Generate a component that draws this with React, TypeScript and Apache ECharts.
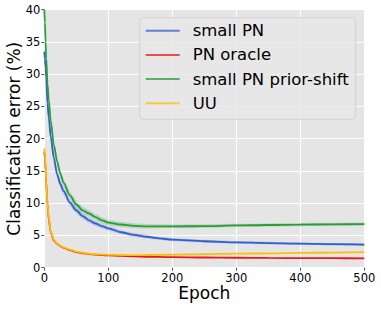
import React, { useEffect, useRef } from "react";
import * as echarts from "echarts";

const epochs = [0, 1, 2, 3, 5, 7, 10, 15, 20, 25, 30, 40, 50, 60, 70, 80, 90, 100, 120, 140, 160, 180, 200, 250, 300, 350, 400, 450, 500];

const smallPN = [33.5, 32.3, 31, 29.5, 25.5, 23.3, 20.3, 17, 14.5, 13, 11.9, 10.1, 8.9, 8.0, 7.35, 6.85, 6.45, 6.1, 5.5, 5.1, 4.8, 4.55, 4.35, 4.1, 3.93, 3.82, 3.72, 3.64, 3.57];
const smallPNSpread = [1.0, 1.0, 0.95, 0.9, 0.85, 0.8, 0.75, 0.7, 0.65, 0.6, 0.55, 0.5, 0.48, 0.45, 0.42, 0.4, 0.38, 0.35, 0.32, 0.3, 0.28, 0.26, 0.25, 0.22, 0.2, 0.2, 0.2, 0.2, 0.2];

const pnOracle = [18, 17, 15.2, 13.3, 9.8, 7.5, 5.5, 4.2, 3.7, 3.35, 3.1, 2.72, 2.42, 2.24, 2.1, 2.02, 1.96, 1.9, 1.82, 1.75, 1.7, 1.67, 1.64, 1.58, 1.54, 1.51, 1.49, 1.47, 1.45];

const priorShift = [40, 38, 35, 32.5, 28.5, 26, 22.8, 19, 16.5, 14.6, 13.2, 11.2, 9.8, 8.9, 8.4, 7.85, 7.35, 7.0, 6.7, 6.5, 6.42, 6.4, 6.4, 6.45, 6.55, 6.62, 6.68, 6.72, 6.77];
const priorShiftSpread = [1.0, 1.0, 0.95, 0.9, 0.85, 0.8, 0.75, 0.7, 0.68, 0.65, 0.62, 0.6, 0.58, 0.55, 0.52, 0.5, 0.48, 0.45, 0.42, 0.38, 0.35, 0.32, 0.3, 0.28, 0.26, 0.25, 0.24, 0.23, 0.22];

const uu = [18.5, 17.5, 15.5, 13.5, 10, 7.6, 5.6, 4.3, 3.75, 3.4, 3.15, 2.8, 2.5, 2.3, 2.17, 2.08, 2.03, 2.0, 1.97, 1.96, 1.97, 1.99, 2.02, 2.1, 2.17, 2.23, 2.29, 2.35, 2.4];

const xTicks = { min: 0, max: 500, interval: 100 };
const yTicks = { min: 0, max: 40, interval: 5 };

const seriesNames = ["small PN", "PN oracle", "small PN prior-shift", "UU"];
const colors = ["#2f5fd0", "#e8191c", "#2a9d3a", "#ffbf00"];

const FONT = "DejaVu Sans";

function pairs(vals: number[]) {
  return epochs.map((e, i) => [e, vals[i]]);
}

function band(name: string, vals: number[], spread: number[], fill: string) {
  const data = epochs.map((e, i) => [e, vals[i] - spread[i], vals[i] + spread[i]]);
  return {
    type: "custom",
    name: name + " band",
    silent: true,
    z: 1,
    data,
    encode: { x: 0, y: [1, 2] },
    renderItem: (params: any, api: any) => {
      if (params.dataIndexInside !== 0) return null;
      const upper = data.map((d) => api.coord([d[0], d[2]]));
      const lower = data.map((d) => api.coord([d[0], d[1]])).reverse();
      return {
        type: "polygon",
        shape: { points: upper.concat(lower), smooth: 0.2 },
        style: { fill, stroke: "none" },
      };
    },
  };
}

function line(idx: number, vals: number[]) {
  return {
    type: "line",
    name: seriesNames[idx],
    data: pairs(vals),
    showSymbol: false,
    symbol: "none",
    smooth: 0.3,
    smoothMonotone: "x",
    z: 3,
    lineStyle: { color: colors[idx], width: 1.8 },
    itemStyle: { color: colors[idx] },
  };
}

export default function App() {
  const ref = useRef<HTMLDivElement>(null);
  useEffect(() => {
    if (!ref.current) return;
    const chart = echarts.init(ref.current, null, { renderer: "svg" });
    chart.setOption({
      animation: false,
      backgroundColor: "#ffffff",
      grid: {
        left: 44.3, right: 16.7, top: 9.7, bottom: 41.3,
        containLabel: false, outerBoundsMode: "none",
        show: true, backgroundColor: "#e5e5e5", borderWidth: 0,
      },
      legend: {
        data: seriesNames,
        orient: "vertical",
        left: 139.7,
        top: 17.7,
        itemWidth: 34,
        itemHeight: 14,
        itemGap: 4.2,
        padding: [3, 7, 6, 6],
        backgroundColor: "rgba(232,232,232,0.85)",
        borderColor: "#d2d2d2",
        borderWidth: 1,
        borderRadius: 4,
        icon: "path://M0,6 L34,6 L34,8 L0,8 Z",
        itemStyle: { opacity: 0.75 },
        textStyle: { fontFamily: FONT, fontSize: 16.5, color: "#000", lineHeight: 20, padding: [0, 0, 0, 8] },
      },
      xAxis: {
        type: "value",
        min: xTicks.min,
        max: xTicks.max,
        interval: xTicks.interval,
        name: "Epoch",
        nameLocation: "middle",
        nameGap: 17,
        nameMoveOverlap: false,
        nameTextStyle: { fontFamily: FONT, fontSize: 17, color: "#000", verticalAlign: "top" },
        axisLine: { show: false },
        axisTick: { show: true, length: 3, lineStyle: { color: "#555" } },
        axisLabel: { fontFamily: FONT, fontSize: 11.5, color: "#000", margin: 4 },
        splitLine: { show: true, lineStyle: { color: "#ffffff", width: 1 } },
      },
      yAxis: {
        type: "value",
        min: yTicks.min,
        max: yTicks.max,
        interval: yTicks.interval,
        name: "Classification error (%)",
        nameLocation: "middle",
        nameGap: 22,
        nameMoveOverlap: false,
        nameTextStyle: { fontFamily: FONT, fontSize: 17, color: "#000" },
        axisLine: { show: false },
        axisTick: { show: true, length: 3, lineStyle: { color: "#555" } },
        axisLabel: { fontFamily: FONT, fontSize: 11.5, color: "#000", margin: 4 },
        splitLine: { show: true, lineStyle: { color: "#ffffff", width: 1 } },
      },
      series: [
        band(seriesNames[0], smallPN, smallPNSpread, "rgba(47,95,208,0.22)"),
        band(seriesNames[2], priorShift, priorShiftSpread, "rgba(42,157,58,0.22)"),
        line(0, smallPN),
        line(1, pnOracle),
        line(2, priorShift),
        line(3, uu),
      ],
    });
    return () => chart.dispose();
  }, []);
  return <div ref={ref} style={{ width: 381, height: 309, position: "absolute", left: 0, top: 0 }} />;
}
